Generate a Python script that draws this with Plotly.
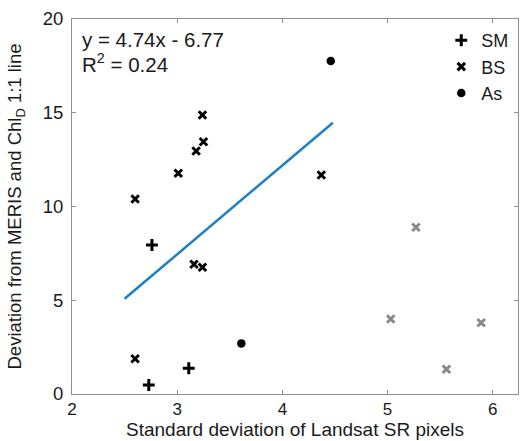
import plotly.graph_objects as go

# Standard deviation of Landsat SR pixels (x) vs deviation from the MERIS/ChlD 1:1 line (y)
sm_x = [2.76, 3.11, 2.73]
sm_y = [7.95, 1.37, 0.48]

bs_x = [3.24, 3.25, 3.18, 3.01, 2.60, 4.37, 3.16, 3.24, 2.60]
bs_y = [14.88, 13.45, 12.96, 11.77, 10.40, 11.68, 6.92, 6.76, 1.88]

as_x = [3.61, 4.46]
as_y = [2.70, 17.76]

# points left out of the fit, drawn in grey
excl_x = [5.27, 5.03, 5.89, 5.56]
excl_y = [8.89, 4.00, 3.80, 1.32]

# linear fit y = slope*x + intercept
slope = 4.74
intercept = -6.77
r2 = 0.24
fit_x = [2.5, 4.48]
fit_y = [slope * v + intercept for v in fit_x]

x_ticks = [2, 3, 4, 5, 6]
y_ticks = [0, 5, 10, 15, 20]

font = "Liberation Sans, Arial, sans-serif"
axis_grey = "#8f8f8f"
text_col = "#1a1a1a"

fig = go.Figure()

fig.add_trace(go.Scatter(
    x=fit_x, y=fit_y, mode="lines", showlegend=False,
    line=dict(color="#1f7fc4", width=2.5), hoverinfo="skip"))

fig.add_trace(go.Scatter(
    x=excl_x, y=excl_y, mode="markers", showlegend=False,
    marker=dict(symbol="x-thin", size=7.5, color="#8a8a8a",
                line=dict(width=3, color="#8a8a8a"))))

fig.add_trace(go.Scatter(
    x=sm_x, y=sm_y, mode="markers", name="SM",
    marker=dict(symbol="cross-thin", size=8.5, color="black",
                line=dict(width=3, color="black"))))

fig.add_trace(go.Scatter(
    x=bs_x, y=bs_y, mode="markers", name="BS",
    marker=dict(symbol="x-thin", size=7.5, color="black",
                line=dict(width=3, color="black"))))

fig.add_trace(go.Scatter(
    x=as_x, y=as_y, mode="markers", name="As",
    marker=dict(symbol="circle", size=8.5, color="black")))

# fit equation and R² in the upper-left corner
fig.add_annotation(
    x=0.018, y=0.945, xref="paper", yref="paper", xanchor="left", yanchor="middle",
    showarrow=False, text=f"y = {slope:.2f}x - {abs(intercept):.2f}",
    font=dict(family=font, size=20.5, color=text_col))
fig.add_annotation(
    x=0.018, y=0.883, xref="paper", yref="paper", xanchor="left", yanchor="middle",
    showarrow=False, text=f"R<sup>2</sup> = {r2:.2f}",
    font=dict(family=font, size=20.5, color=text_col))

axis_common = dict(
    showline=True, linecolor=axis_grey, linewidth=1, mirror="ticks",
    ticks="inside", ticklen=4, tickcolor=axis_grey, showgrid=False, zeroline=False,
    automargin=False)

fig.update_layout(
    width=520, height=441,
    margin=dict(l=72, r=2, t=19, b=47),
    plot_bgcolor="white", paper_bgcolor="white",
    showlegend=True,
    legend=dict(x=0.828, y=0.992, xanchor="left", yanchor="top",
                bgcolor="rgba(0,0,0,0)", font=dict(family=font, size=18, color=text_col),
                itemwidth=30, tracegroupgap=0),
    xaxis=dict(range=[2, 6.24], tickvals=x_ticks, ticklabelstandoff=0,
               tickfont=dict(family=font, size=17, color=text_col),
               title=dict(text="Standard deviation of Landsat SR pixels", standoff=2,
                          font=dict(family=font, size=19, color=text_col)),
               **axis_common),
    yaxis=dict(range=[0, 20], tickvals=y_ticks, ticklabelstandoff=4,
               tickfont=dict(family=font, size=18.5, color=text_col),
               title=dict(text="Deviation from MERIS and Chl<sub>D</sub> 1:1 line", standoff=16,
                          font=dict(family=font, size=18.5, color=text_col)),
               **axis_common),
)

fig.write_html("out.html")
